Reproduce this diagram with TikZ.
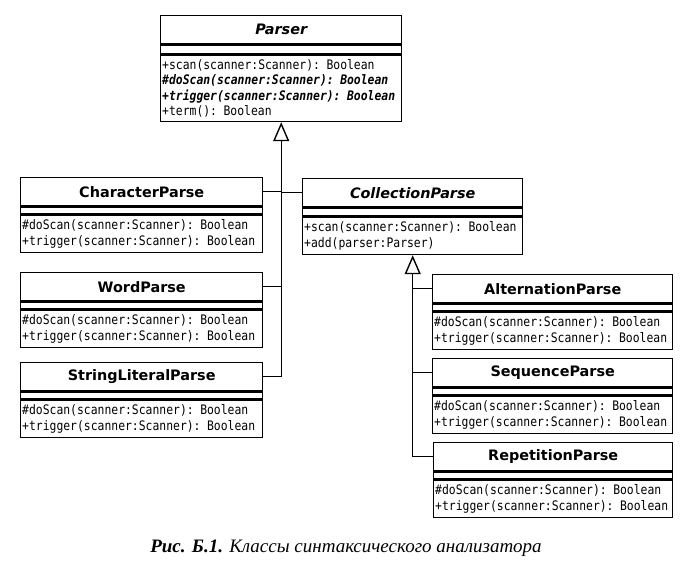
\documentclass[tikz,border=0pt]{standalone}
\usepackage{fontspec}
\setmainfont{Liberation Serif}
\setmonofont[FakeStretch=0.87]{DejaVu Sans Mono}
\newfontfamily\umlsans{DejaVu Sans}
\usetikzlibrary{arrows.meta}
\tikzset{
  box/.style={draw, line width=1.4pt, inner sep=0pt, anchor=north west, fill=white},
  ttl/.style={box, minimum height=28pt, font=\umlsans\bfseries\fontsize{14.4}{16}\selectfont},
  ittl/.style={ttl, font=\umlsans\bfseries\itshape\fontsize{14.4}{16}\selectfont},
  attr/.style={box, minimum height=7pt},
  ops/.style={box, minimum height=37pt, align=left, inner xsep=1.5pt,
    font=\ttfamily\fontsize{13.1}{15.5}\selectfont},
  link/.style={line width=1.4pt},
  gen/.style={link, -{Triangle[open, width=16pt, length=19pt, line width=1.4pt]}},
}
\begin{document}
\begin{tikzpicture}[x=1pt, y=-1pt]
\useasboundingbox (0,0) rectangle (692,572);
% Parser
\node[ittl, minimum width=241pt] (parT) at (160,15) {Parser};
\node[attr, minimum width=241pt, minimum height=9pt] (parA) at (parT.south west) {};
\node[ops, minimum width=241pt, minimum height=66pt, text width=238pt] (parO) at (parA.south west)
  {+scan(scanner:Scanner): Boolean\\
   \textbf{\textit{\#doScan(scanner:Scanner): Boolean}}\\
   \textbf{\textit{+trigger(scanner:Scanner): Boolean}}\\
   +term(): Boolean};
% CharacterParse
\node[ttl, minimum width=242pt] (chrT) at (20,177) {CharacterParse};
\node[attr, minimum width=242pt] (chrA) at (chrT.south west) {};
\node[ops, minimum width=242pt, text width=239pt] (chrO) at (chrA.south west)
  {\#doScan(scanner:Scanner): Boolean\\+trigger(scanner:Scanner): Boolean};
% WordParse
\node[ttl, minimum width=242pt] (wrdT) at (20,272) {WordParse};
\node[attr, minimum width=242pt] (wrdA) at (wrdT.south west) {};
\node[ops, minimum width=242pt, text width=239pt] (wrdO) at (wrdA.south west)
  {\#doScan(scanner:Scanner): Boolean\\+trigger(scanner:Scanner): Boolean};
% StringLiteralParse
\node[ttl, minimum width=242pt] (strT) at (20,362) {StringLiteralParse};
\node[attr, minimum width=242pt] (strA) at (strT.south west) {};
\node[ops, minimum width=242pt, text width=239pt] (strO) at (strA.south west)
  {\#doScan(scanner:Scanner): Boolean\\+trigger(scanner:Scanner): Boolean};
% CollectionParse
\node[ittl, minimum width=220pt] (colT) at (302,178) {CollectionParse};
\node[attr, minimum width=220pt, minimum height=8pt] (colA) at (colT.south west) {};
\node[ops, minimum width=220pt, text width=217pt] (colO) at (colA.south west)
  {+scan(scanner:Scanner): Boolean\\+add(parser:Parser)};
% AlternationParse
\node[ttl, minimum width=240pt] (altT) at (432,274) {AlternationParse};
\node[attr, minimum width=240pt] (altA) at (altT.south west) {};
\node[ops, minimum width=240pt, text width=237pt] (altO) at (altA.south west)
  {\#doScan(scanner:Scanner): Boolean\\+trigger(scanner:Scanner): Boolean};
% SequenceParse
\node[ttl, minimum width=240pt] (seqT) at (432,358) {SequenceParse};
\node[attr, minimum width=240pt] (seqA) at (seqT.south west) {};
\node[ops, minimum width=240pt, text width=237pt] (seqO) at (seqA.south west)
  {\#doScan(scanner:Scanner): Boolean\\+trigger(scanner:Scanner): Boolean};
% RepetitionParse
\node[ttl, minimum width=239pt] (repT) at (433,442) {RepetitionParse};
\node[attr, minimum width=239pt] (repA) at (repT.south west) {};
\node[ops, minimum width=239pt, text width=236pt] (repO) at (repA.south west)
  {\#doScan(scanner:Scanner): Boolean\\+trigger(scanner:Scanner): Boolean};
% generalisation: Parser
\draw[gen] (strT.east) -| (parO.south);
\draw[link] (chrT.east) -- (chrT.east -| parO.south);
\draw[link] (wrdT.east) -- (wrdT.east -| parO.south);
\draw[link] (colT.west) -- (colT.west -| parO.south);
% generalisation: CollectionParse
\draw[gen] (repT.west) -| (colO.south);
\draw[link] (altT.west) -- (altT.west -| colO.south);
\draw[link] (seqT.west) -- (seqT.west -| colO.south);
% caption
\node[font=\fontsize{19}{22}\selectfont] (cap) at (346,548)
  {\textbf{\textit{Рис. Б.1.}} \textit{Классы синтаксического анализатора}};
\end{tikzpicture}
\end{document}
